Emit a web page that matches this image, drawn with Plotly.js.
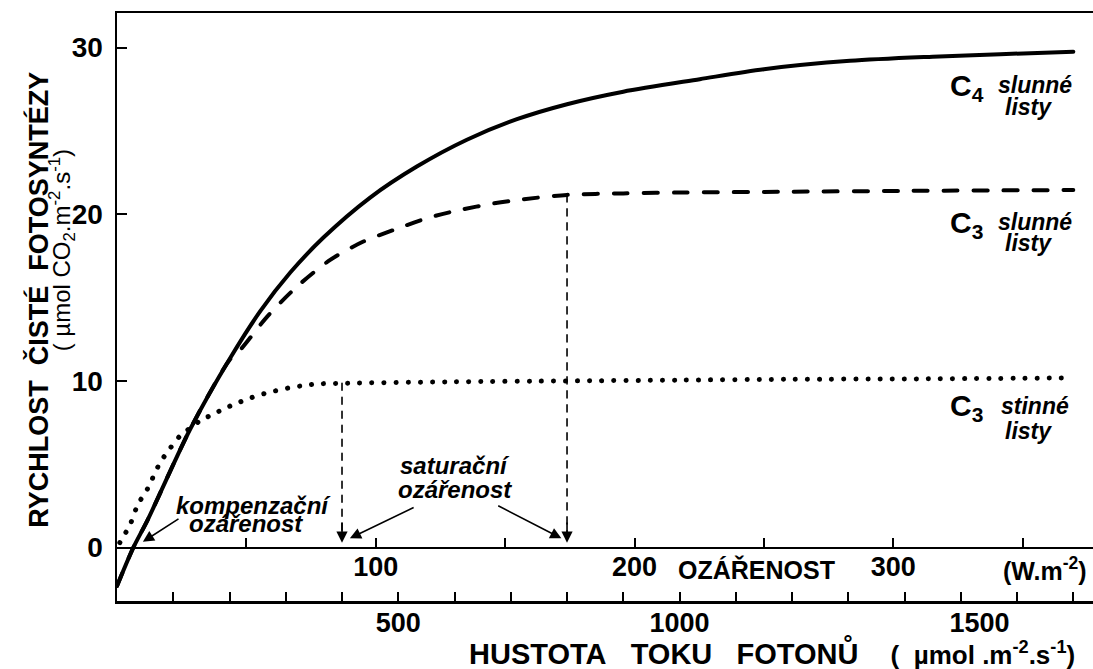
<!DOCTYPE html>
<html>
<head>
<meta charset="utf-8">
<script src="https://cdn.plot.ly/plotly-3.0.1.min.js"></script>
<style>
  html, body { margin: 0; padding: 0; background: #fff; }
  #chart { width: 1093px; height: 669px; }
  .js-line { stroke-linecap: round; }
</style>
</head>
<body>
<div id="chart"></div>
<script>
// ---- data ----
// photon flux density (µmol m-2 s-1) and net photosynthesis rate (µmol CO2 m-2 s-1)
const c4SunX = [0, 29, 55, 130, 201, 255, 308, 367, 450, 533, 622, 711, 800, 900, 1036, 1150, 1303, 1450, 1570, 1700];
const c4SunY = [-2.3, 0, 1.7, 7.1, 11.36, 14.2, 16.5, 18.6, 21.0, 22.86, 24.47, 25.7, 26.6, 27.35, 28.1, 28.7, 29.2, 29.45, 29.6, 29.75];

const c3SunX = [0, 29, 55, 130, 201, 219, 267, 320, 379, 438, 492, 551, 610, 670, 711, 800, 900, 1000, 1200, 1400, 1700];
const c3SunY = [-2.3, 0, 1.7, 7.1, 11.3, 11.86, 13.86, 15.66, 17.26, 18.36, 19.06, 19.76, 20.26, 20.65, 20.85, 21.16, 21.25, 21.3, 21.35, 21.4, 21.45];

const c3ShadeX = [5, 11, 23, 38, 50, 59, 76, 88, 112, 127, 150, 171, 192, 213, 236, 260, 281, 308, 331, 355, 400, 600, 800, 1000, 1200, 1400, 1700];
const c3ShadeY = [0.3, 0.65, 1.36, 2.66, 3.26, 3.86, 5.06, 5.66, 6.7, 7.1, 7.66, 8.0, 8.36, 8.66, 8.96, 9.22, 9.4, 9.6, 9.72, 9.82, 9.86, 9.95, 10.0, 10.05, 10.1, 10.12, 10.18];

// saturation irradiances (photon flux) and the corresponding rates
const satX = [400, 800];
const satY = [9.86, 21.16];
// compensation irradiance
const compX = 46;

// axis ticks
const fluxTickVals = [500, 1000, 1500];
const fluxTickText = ['500', '1000', '\u00a0\u00a0\u00a0\u00a0\u00a01500'];
const fluxMinorStep = 100;
const yTickVals = [0, 10, 20, 30];
const yTickText = ['0', '10', '20', '30'];
const wattTickVals = [50, 100, 150, 200, 250, 300, 350];
const wattTickText = ['', '100', '', '200', '', '300', ''];
const fluxPerWatt = 4.6;   // µmol m-2 s-1 per W m-2

// ---- layout constants ----
const xRange = [0, 1735];
const yRange = [-3.2, 32.07];
const FONT = 'Liberation Sans, Arial, Helvetica, sans-serif';
const zeroPos = (0 - yRange[0]) / (yRange[1] - yRange[0]);
const NB = '\u00a0';

const traces = [
  { x: c3SunX, y: c3SunY, mode: 'lines', line: { color: '#000', width: 4, dash: '14px,16px', shape: 'spline', smoothing: 0.8 }, hoverinfo: 'skip' },
  { x: c3ShadeX, y: c3ShadeY, mode: 'lines', line: { color: '#000', width: 5, dash: '0.1px,12px', shape: 'spline', smoothing: 0.8 }, hoverinfo: 'skip' },
  { x: c4SunX, y: c4SunY, mode: 'lines', line: { color: '#000', width: 4, shape: 'spline', smoothing: 0.8 }, hoverinfo: 'skip' },
  // invisible trace to attach the irradiance (W m-2) axis
  { x: [xRange[0] / fluxPerWatt, xRange[1] / fluxPerWatt], y: [0, 0], xaxis: 'x2', yaxis: 'y', mode: 'markers', marker: { opacity: 0 }, hoverinfo: 'skip' }
];
satX.forEach((sx, i) => {
  traces.push({ x: [sx, sx], y: [satY[i], 0.9], mode: 'lines', line: { color: '#000', width: 1.6, dash: '7px,7px' }, hoverinfo: 'skip' });
});

const ann = [];
function txt(x, y, text, size, opts) {
  ann.push(Object.assign({ x: x, y: y, xref: 'x', yref: 'y', text: text, showarrow: false,
    font: { family: FONT, size: size, color: '#000', weight: 'bold' } }, opts || {}));
}
const lblFont = { family: FONT, size: 23, color: '#000', weight: 'bold', style: 'italic' };
// curve labels
txt(1477, 27.6, 'C<sub>4</sub>', 30, { xanchor: 'left' });
txt(1632, 27.75, 'slunné', 23, { font: lblFont });
txt(1620, 26.45, 'listy', 23, { font: lblFont });

txt(1477, 19.4, 'C<sub>3</sub>', 30, { xanchor: 'left' });
txt(1632, 19.55, 'slunné', 23, { font: lblFont });
txt(1620, 18.3, 'listy', 23, { font: lblFont });

txt(1477, 8.4, 'C<sub>3</sub>', 30, { xanchor: 'left' });
txt(1632, 8.5, 'stinné', 23, { font: lblFont });
txt(1620, 7.0, 'listy', 23, { font: lblFont });

// notes
const itFont = { family: FONT, size: 24, color: '#000', weight: 'bold', style: 'italic' };
txt(243, 2.55, 'kompenzační', 24, { font: itFont });
txt(229, 1.45, 'ozářenost', 24, { font: itFont });
txt(601, 4.95, 'saturační', 24, { font: itFont });
txt(600, 3.5, 'ozářenost', 24, { font: itFont });

// W m-2 axis text
txt(1137, -1.3, 'OZÁŘENOST', 25);
txt(1649, -1.3, '(W.m<sup>-2</sup>)', 25);

// arrows
function arrow(x, y, ax, ay) {
  ann.push({ x: x, y: y, ax: ax, ay: ay, xref: 'x', yref: 'y', axref: 'x', ayref: 'y', text: '',
    showarrow: true, arrowhead: 2, arrowsize: 1.4, arrowwidth: 1.6, arrowcolor: '#000' });
}
arrow(compX, 0.35, 112, 1.78);
arrow(satX[0] + 14, 0.56, 530, 2.45);
arrow(satX[1] - 10, 0.56, 675, 2.56);
satX.forEach(sx => arrow(sx, 0.3, sx, 1.6));

// axis titles (as free text to follow the reference placement)
ann.push({ xref: 'paper', yref: 'paper', x: 0.3586, y: -0.088, xanchor: 'left', yanchor: 'middle', showarrow: false,
  text: 'HUSTOTA' + NB + NB + NB + 'TOKU' + NB + NB + NB + 'FOTONŮ' + NB + NB + NB + NB +
        '<span style="font-size:26px">(' + NB + NB + 'µmol' + NB + '.m<sup>-2</sup>.s<sup>-1</sup>)</span>',
  font: { family: FONT, size: 29, color: '#000', weight: 'bold' } });
ann.push({ xref: 'paper', yref: 'paper', x: -0.080, y: 0.512, xanchor: 'center', yanchor: 'middle', textangle: -90, showarrow: false,
  text: 'RYCHLOST' + NB + NB + 'ČISTÉ' + NB + NB + 'FOTOSYNTÉZY',
  font: { family: FONT, size: 27, color: '#000', weight: 'bold' } });
ann.push({ xref: 'paper', yref: 'paper', x: -0.056, y: 0.597, xanchor: 'center', yanchor: 'middle', textangle: -90, showarrow: false,
  text: '(' + NB + 'µmol' + NB + 'CO<sub>2</sub>.m<sup>-2</sup>.s<sup>-1</sup>)',
  font: { family: FONT, size: 24, color: '#000' } });

const layout = {
  width: 1093, height: 669,
  margin: { l: 117, r: 0, t: 13, b: 68, pad: 0 },
  paper_bgcolor: '#fff', plot_bgcolor: '#fff',
  showlegend: false,
  font: { family: FONT, color: '#000' },
  xaxis: {
    range: xRange, showgrid: false, zeroline: false,
    showline: true, linecolor: '#000', linewidth: 2.5, mirror: true,
    tickmode: 'array', tickvals: fluxTickVals, ticktext: fluxTickText,
    ticks: 'inside', ticklen: 9, tickwidth: 2, tickcolor: '#000',
    minor: { dtick: fluxMinorStep, ticks: 'inside', ticklen: 9, tickwidth: 2, tickcolor: '#000', showgrid: false },
    tickfont: { family: FONT, size: 27, color: '#000', weight: 'bold' },
    ticklabelstandoff: -4
  },
  xaxis2: {
    overlaying: 'x', anchor: 'free', position: zeroPos, side: 'bottom',
    range: [xRange[0] / fluxPerWatt, xRange[1] / fluxPerWatt],
    showgrid: false, zeroline: false,
    showline: true, linecolor: '#000', linewidth: 2,
    tickmode: 'array', tickvals: wattTickVals, ticktext: wattTickText,
    ticks: 'inside', ticklen: 9, tickwidth: 2, tickcolor: '#000',
    tickfont: { family: FONT, size: 27, color: '#000', weight: 'bold' },
    ticklabelstandoff: -5
  },
  yaxis: {
    range: yRange, showgrid: false, zeroline: false,
    showline: true, linecolor: '#000', linewidth: 2.5,
    tickmode: 'array', tickvals: yTickVals, ticktext: yTickText,
    ticks: 'inside', ticklen: 10, tickwidth: 2, tickcolor: '#000',
    tickfont: { family: FONT, size: 28, color: '#000', weight: 'bold' },
    ticklabelstandoff: 6
  },
  annotations: ann
};

Plotly.newPlot('chart', traces, layout, { staticPlot: true, displayModeBar: false });
</script>
</body>
</html>
